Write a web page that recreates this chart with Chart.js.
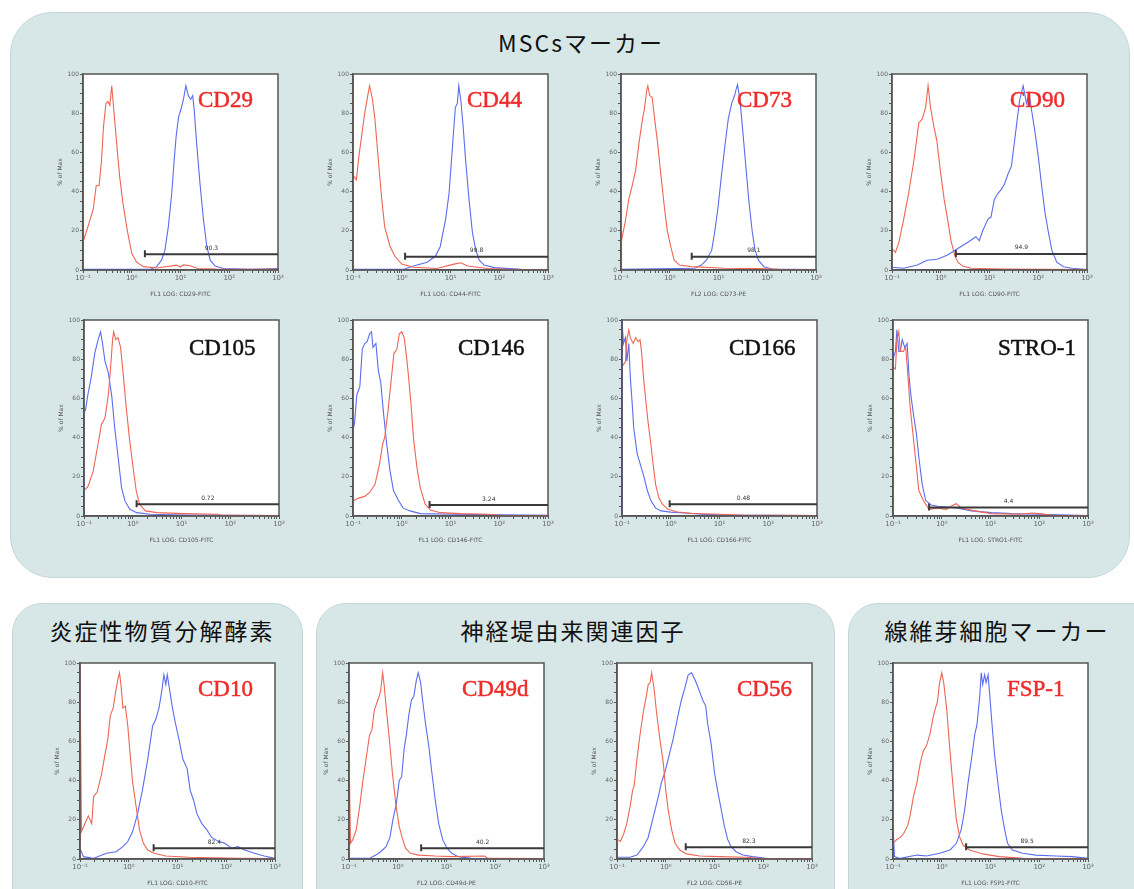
<!DOCTYPE html>
<html>
<head>
<meta charset="utf-8">
<script src="https://cdn.jsdelivr.net/npm/chart.js@4.4.1/dist/chart.umd.min.js"></script>
<style>
  body { margin: 0; background: #fff; width: 1134px; height: 889px; overflow: hidden; position: relative; }
  .panel { position: absolute; background: #d7e6e7; border: 1px solid #c3d7d9; box-sizing: border-box; }
  .title { position: absolute; transform: translate(-50%, -50%); font-family: "Noto Sans CJK JP", sans-serif; font-size: 23px; letter-spacing: 2px; color: #111; white-space: nowrap; }
  .marker { position: absolute; transform: translateY(-50%); font-family: "Liberation Serif", serif; font-size: 23px; line-height: 1; white-space: nowrap; -webkit-text-stroke: 0.5px currentColor; }
  canvas { position: absolute; }
</style>
</head>
<body>
<div class="panel" style="left:10px;top:12px;width:1120px;height:566px;border-radius:42px;"></div>
<div class="panel" style="left:12px;top:603px;width:291px;height:320px;border-radius:30px;"></div>
<div class="panel" style="left:316px;top:603px;width:519px;height:320px;border-radius:30px;"></div>
<div class="panel" style="left:848px;top:603px;width:320px;height:320px;border-radius:30px;"></div>
<div class="title" style="left:581px;top:42px;">MSCsマーカー</div>
<div class="title" style="left:162px;top:630px;">炎症性物質分解酵素</div>
<div class="title" style="left:573px;top:630px;">神経堤由来関連因子</div>
<div class="title" style="left:997px;top:630px;">線維芽細胞マーカー</div>

<script>
// markers and axis texts
const markers = ['CD29', 'CD44', 'CD73', 'CD90', 'CD105', 'CD146', 'CD166', 'STRO-1', 'CD10', 'CD49d', 'CD56', 'FSP-1'];
const markerRed = [true, true, true, true, false, false, false, false, true, true, true, true];
const axisTitles = ['FL1 LOG: CD29-FITC', 'FL1 LOG: CD44-FITC', 'FL2 LOG: CD73-PE', 'FL1 LOG: CD90-FITC',
  'FL1 LOG: CD105-FITC', 'FL1 LOG: CD146-FITC', 'FL1 LOG: CD166-FITC', 'FL1 LOG: STRO1-FITC',
  'FL1 LOG: CD10-FITC', 'FL2 LOG: CD49d-PE', 'FL2 LOG: CD56-PE', 'FL1 LOG: FSP1-FITC'];
const xTicks = [0.1, 1, 10, 100, 1000];
const xTickLabels = ['10⁻¹', '10⁰', '10¹', '10²', '10³'];
const yTicks = [0, 20, 40, 60, 80, 100];

// gate bars: start intensity, height (% of max), percent shown
const gateFrom = [1.86, 1.17, 2.82, 2.04, 1.2, 3.72, 0.95, 0.55, 3.24, 3.02, 2.57, 3.16];
const gateLevel = [8, 6.8, 6.8, 8.2, 6, 5.6, 6, 4.3, 5.5, 5.5, 6, 6];
const gateText = ['90.3', '99.8', '98.1', '94.9', '0.72', '3.24', '0.48', '4.4', '82.4', '40.2', '82.3', '89.5'];

// histograms: [log10 intensity, % of max]; Iso = red control, Pos = blue stained
const cd29Iso = [[-1,0],[-1,93],[-0.98,15],[-0.9,22],[-0.79,31],[-0.73,43],[-0.67,43],[-0.62,56],[-0.58,73],[-0.53,85],[-0.49,86],[-0.45,84],[-0.41,94],[-0.37,82],[-0.31,65],[-0.25,48],[-0.18,34],[-0.09,20],[0,8.5],[0.1,4],[0.24,1.7],[0.51,1],[0.92,2.5],[1,1.5],[1.06,2.6],[1.2,2.2],[1.35,0.8],[1.74,0.5],[3,0.3]];
const cd29Pos = [[-1,0.3],[0.37,0.3],[0.51,1.7],[0.61,5],[0.68,10],[0.75,22],[0.82,39],[0.87,56],[0.91,68],[0.96,78],[1.01,82],[1.06,87],[1.11,94],[1.16,89],[1.21,87],[1.25,89],[1.28,82],[1.33,65],[1.4,44],[1.47,26],[1.54,12],[1.61,5],[1.71,2],[1.88,0.8],[2.43,0.3],[3,0.8]];
const cd44Iso = [[-1,0],[-1,99],[-0.98,48],[-0.93,46],[-0.88,58],[-0.83,67],[-0.76,80],[-0.69,90],[-0.66,94],[-0.6,87],[-0.55,77],[-0.48,56],[-0.41,36],[-0.35,22],[-0.24,12],[-0.14,7],[0,3],[0.24,1.4],[0.72,0.8],[1.07,3],[1.21,3.7],[1.35,2],[1.76,0.8],[2.17,0.3],[3,0]];
const cd44Pos = [[-1,0.3],[0.03,0.3],[0.24,2],[0.52,4],[0.69,7],[0.79,12],[0.9,26],[0.97,39],[1.02,56],[1.07,73],[1.1,83],[1.14,85],[1.17,94],[1.21,87],[1.26,73],[1.31,56],[1.38,36],[1.45,19],[1.52,10],[1.59,5],[1.69,2.5],[1.9,1.2],[2.45,0.3],[3,0.2]];
const cd73Iso = [[-1,0],[-1,20],[-0.98,15],[-0.91,25],[-0.84,36],[-0.77,43],[-0.7,51],[-0.63,65],[-0.56,77],[-0.52,82],[-0.47,92],[-0.45,94],[-0.41,89],[-0.36,88],[-0.31,77],[-0.25,65],[-0.18,48],[-0.11,32],[-0.05,20],[0.02,12],[0.09,5],[0.2,2.5],[0.44,1.7],[1.13,0.9],[1.82,0.7],[2.24,0.3],[3,0]];
const cd73Pos = [[-1,0.3],[0.51,0.9],[0.65,2.5],[0.75,5],[0.86,10],[0.92,19],[0.99,32],[1.06,48],[1.13,63],[1.2,77],[1.27,85],[1.33,89],[1.36,92],[1.39,94.5],[1.44,87],[1.49,73],[1.55,56],[1.62,36],[1.69,20],[1.75,10],[1.82,5],[1.93,1.7],[2.1,0.5],[3,0.2]];
const cd90Iso = [[-1,0],[-1,11],[-0.93,9],[-0.86,14],[-0.76,26],[-0.66,39],[-0.55,56],[-0.45,75],[-0.38,77],[-0.31,83],[-0.26,94],[-0.21,83],[-0.14,73],[-0.08,66],[-0.01,51],[0.07,36],[0.14,26],[0.21,15],[0.28,8],[0.35,4],[0.45,2],[0.62,0.9],[1.24,0.5],[3,0.2]];
const cd90Pos = [[-1,1.4],[-0.76,0.9],[-0.48,2.5],[-0.28,5],[-0.07,5.5],[0.14,7.7],[0.35,11],[0.55,14],[0.72,17],[0.79,15],[0.86,20],[0.97,26],[1.03,27],[1.1,36],[1.17,39],[1.24,41],[1.31,44],[1.38,49],[1.45,53],[1.5,63],[1.55,73],[1.62,87],[1.69,94],[1.76,85],[1.81,90],[1.86,82],[1.93,71],[2,58],[2.07,43],[2.14,29],[2.21,19],[2.28,10],[2.38,4],[2.52,1.7],[2.69,0.9],[3,0.2]];
const cd105Iso = [[-1,13],[-0.92,15],[-0.81,23],[-0.71,37],[-0.64,47],[-0.57,50],[-0.5,62],[-0.46,74],[-0.41,91],[-0.39,94],[-0.35,90],[-0.3,91],[-0.25,86],[-0.19,71],[-0.14,57],[-0.07,40],[0,26],[0.07,13],[0.14,6],[0.26,2.6],[0.5,1.7],[1.05,1.2],[1.74,0.9],[1.84,0.3],[3,0.2]];
const cd105Pos = [[-1,0],[-1,53],[-0.97,54],[-0.92,62],[-0.85,71],[-0.78,83],[-0.71,90],[-0.66,94],[-0.62,88],[-0.57,79],[-0.5,73],[-0.43,61],[-0.37,45],[-0.3,30],[-0.23,14.5],[-0.16,7.7],[-0.06,3.4],[0.08,1.7],[0.36,0.9],[1.05,0.5],[3,0.2]];
const cd146Iso = [[-1,7.7],[-0.9,9],[-0.76,10],[-0.66,12],[-0.55,16],[-0.46,26],[-0.39,37],[-0.35,40],[-0.28,54],[-0.21,71],[-0.16,83],[-0.1,85],[-0.05,93],[0,94],[0.05,91],[0.09,83],[0.14,71],[0.19,57],[0.24,40],[0.31,25],[0.38,14.5],[0.48,6],[0.59,3],[0.79,1.7],[1.21,1.2],[1.76,0.9],[2.03,0.3],[3,0.2]];
const cd146Pos = [[-1,0],[-1,44],[-0.97,47],[-0.92,62],[-0.86,66],[-0.81,85],[-0.76,88],[-0.71,89],[-0.66,93],[-0.62,94],[-0.59,86],[-0.53,88],[-0.48,74],[-0.43,68],[-0.38,54],[-0.31,37],[-0.24,23],[-0.17,13],[-0.07,8],[0.03,4],[0.17,2.6],[0.38,1.2],[1.07,0.9],[3,0.3]];
const cd166Iso = [[-1,76],[-0.95,78],[-0.93,79],[-0.9,90],[-0.86,95],[-0.83,91],[-0.77,88],[-0.72,91],[-0.67,89],[-0.63,90],[-0.6,84],[-0.56,71],[-0.52,61],[-0.47,49],[-0.41,37],[-0.36,26],[-0.31,16],[-0.24,9],[-0.17,6],[-0.06,3.4],[0.14,2],[0.42,1.4],[0.98,0.9],[1.46,0.5],[3,0.2]];
const cd166Pos = [[-1,0],[-1,100],[-0.99,98],[-0.97,88],[-0.93,91],[-0.9,79],[-0.86,88],[-0.83,71],[-0.79,57],[-0.76,45],[-0.69,32],[-0.62,26],[-0.55,20],[-0.48,13],[-0.41,8],[-0.31,4],[-0.2,2.6],[0,2],[0.28,1.5],[0.63,0.9],[1.11,0.5],[3,0.2]];
const stro1Iso = [[-1,76],[-0.95,75],[-0.92,90],[-0.88,94],[-0.85,84],[-0.79,84],[-0.74,86],[-0.71,77],[-0.65,56],[-0.6,44],[-0.54,30],[-0.47,13],[-0.38,8],[-0.26,3.4],[-0.08,4],[0.09,3.4],[0.19,5],[0.3,6.3],[0.4,4],[0.68,2.6],[1.02,1.2],[1.58,0.9],[1.86,1.5],[2,1.2],[2.27,0.3],[3,0.2]];
const stro1Pos = [[-1,0],[-1,80],[-0.95,84],[-0.92,95],[-0.88,84],[-0.85,84],[-0.81,90],[-0.76,86],[-0.71,88],[-0.67,71],[-0.63,61],[-0.57,50],[-0.52,42],[-0.47,30],[-0.4,16],[-0.33,8],[-0.22,5.6],[-0.08,5],[0.12,4.6],[0.33,4],[0.61,2.6],[1.02,1.7],[1.44,1.2],[2,0.9],[3,0.2]];
const cd10Iso = [[-1,0],[-1,100],[-0.97,14],[-0.9,18],[-0.83,22],[-0.76,18],[-0.72,32],[-0.65,34],[-0.56,43],[-0.49,53],[-0.43,61],[-0.38,73],[-0.32,77],[-0.27,85],[-0.22,92],[-0.19,95],[-0.16,89],[-0.12,77],[-0.07,78],[-0.02,68],[0.03,53],[0.08,39],[0.15,27],[0.22,15],[0.3,8],[0.39,4.6],[0.52,2.9],[0.76,1.5],[1.23,0.9],[2.24,0.3],[3,0.2]];
const cd10Pos = [[-1,5.5],[-0.93,1.2],[-0.73,0.3],[-0.46,2.9],[-0.26,3.7],[-0.12,6.3],[-0.02,8.9],[0.08,14],[0.18,23],[0.28,35],[0.39,51],[0.49,68],[0.55,71],[0.62,77],[0.68,86],[0.72,94],[0.76,89],[0.79,94],[0.84,86],[0.89,78],[0.96,69],[1.03,61],[1.11,51],[1.2,46],[1.26,35],[1.33,30],[1.4,23],[1.5,18],[1.6,15],[1.7,11],[1.84,9],[1.97,8],[2.11,5.5],[2.24,6.3],[2.38,4.6],[2.58,2.9],[2.78,1.5],[3,0.3]];
const cd49dIso = [[-1,0],[-1,57],[-0.97,8],[-0.92,10],[-0.85,15],[-0.78,27],[-0.72,39],[-0.65,51],[-0.58,63],[-0.53,66],[-0.48,76],[-0.41,81],[-0.38,83],[-0.35,86],[-0.31,95],[-0.28,89],[-0.24,78],[-0.18,63],[-0.11,44],[-0.04,28],[0.03,16.5],[0.1,10],[0.16,5.5],[0.26,2.9],[0.43,2],[0.77,1.5],[1.11,1.2],[1.78,1.5],[1.85,0.3],[3,0.2]];
const cd49dPos = [[-1,0.3],[-0.58,0.3],[-0.45,2],[-0.35,3.7],[-0.24,6.3],[-0.16,11],[-0.1,20],[-0.03,28],[0.03,40],[0.08,42],[0.13,56],[0.18,64],[0.23,74],[0.28,81],[0.33,83],[0.38,91],[0.42,95],[0.47,90],[0.51,81],[0.57,69],[0.64,57],[0.7,44],[0.77,30],[0.84,18],[0.92,10],[1.01,5.5],[1.11,2.9],[1.24,1.2],[1.51,0.3],[3,0.2]];
const cd56Iso = [[-1,0],[-1,72],[-0.98,10],[-0.93,9],[-0.86,13],[-0.8,18],[-0.73,27],[-0.68,35],[-0.65,37],[-0.59,51],[-0.53,63],[-0.46,75],[-0.4,83],[-0.36,89],[-0.32,90],[-0.29,95],[-0.24,87],[-0.19,75],[-0.12,61],[-0.05,49],[0,35],[0.05,25],[0.12,15],[0.19,8],[0.29,4.6],[0.42,2.6],[0.7,1.5],[1.1,1.2],[1.64,0.9],[1.92,0.3],[3,0.2]];
const cd56Pos = [[-1,0.9],[-0.73,0.9],[-0.59,2],[-0.46,6.3],[-0.36,11],[-0.25,22],[-0.15,32],[-0.09,39],[-0.02,44],[0.05,51],[0.15,61],[0.25,73],[0.32,81],[0.39,87],[0.46,94],[0.53,95],[0.59,92],[0.64,89],[0.7,85],[0.76,81],[0.82,78],[0.86,69],[0.93,59],[1,44],[1.07,34],[1.14,25],[1.2,17],[1.27,10],[1.34,6.3],[1.44,3.7],[1.58,2],[1.78,1.2],[2.05,0.3],[3,0.2]];
const fsp1Iso = [[-1,8],[-0.92,10],[-0.85,11],[-0.78,13],[-0.7,17],[-0.65,22],[-0.58,32],[-0.51,39],[-0.44,49],[-0.38,55],[-0.31,58],[-0.24,64],[-0.17,73],[-0.13,77],[-0.09,80],[-0.05,89],[0,95],[0.04,90],[0.1,77],[0.15,61],[0.2,46],[0.25,32],[0.3,20],[0.37,11],[0.44,7],[0.57,4.6],[0.84,2.6],[1.18,1.2],[1.66,0.3],[3,0.2]];
const fsp1Pos = [[-1,0],[-1,17],[-0.97,1.2],[-0.85,0.3],[-0.51,2],[-0.31,1.5],[-0.04,2.9],[0.17,4.6],[0.3,8],[0.4,15],[0.47,25],[0.54,39],[0.61,51],[0.68,64],[0.72,68],[0.78,83],[0.81,95],[0.84,89],[0.88,94],[0.91,90],[0.95,94],[0.98,85],[1.03,69],[1.08,54],[1.15,39],[1.22,25],[1.29,15],[1.35,8],[1.45,4.6],[1.66,2.9],[1.93,2],[2.34,1.5],[2.68,1.2],[3,0.3]];

const isoCurves = [cd29Iso, cd44Iso, cd73Iso, cd90Iso, cd105Iso, cd146Iso, cd166Iso, stro1Iso, cd10Iso, cd49dIso, cd56Iso, fsp1Iso];
const posCurves = [cd29Pos, cd44Pos, cd73Pos, cd90Pos, cd105Pos, cd146Pos, cd166Pos, stro1Pos, cd10Pos, cd49dPos, cd56Pos, fsp1Pos];

// page layout: top-left of each plot area, and of each marker name
const plotBoxes = [[83,74],[353,74],[621,74],[892,74],[84,320],[353,320],[622,320],[893,320],[80,663],[349,663],[617,663],[893,663]];
const labelBoxes = [[198,99],[467,99],[737,99],[1010,99],[189,347],[458,347],[729,347],[998,347],[198,688],[462,688],[737,688],[1007,688]];

const RED = '#ef6555';
const BLUE = '#5c6cee';
const AXIS = '#555';

// white plot area, frame and gate bar
const histFrame = {
  id: 'histFrame',
  beforeDraw(chart) {
    const a = chart.chartArea, ctx = chart.ctx;
    ctx.save();
    ctx.fillStyle = '#fff';
    ctx.fillRect(a.left, a.top, a.right - a.left, a.bottom - a.top);
    ctx.restore();
  },
  afterDraw(chart, args, opts) {
    const a = chart.chartArea, ctx = chart.ctx;
    const xs = chart.scales.x, ys = chart.scales.y;
    ctx.save();
    ctx.strokeStyle = AXIS;
    ctx.lineWidth = 1.5;
    ctx.strokeRect(a.left, a.top, a.right - a.left, a.bottom - a.top);
    // gate
    const x0 = xs.getPixelForValue(opts.from);
    const x1 = xs.getPixelForValue(1000);
    const y = ys.getPixelForValue(opts.level);
    ctx.strokeStyle = '#3a3a3a';
    ctx.lineWidth = 2;
    ctx.beginPath();
    ctx.moveTo(x0, y); ctx.lineTo(x1, y);
    ctx.moveTo(x0, y - 4); ctx.lineTo(x0, y + 3);
    ctx.stroke();
    ctx.fillStyle = '#333';
    ctx.font = '6px "DejaVu Sans", sans-serif';
    ctx.textAlign = 'center';
    ctx.textBaseline = 'bottom';
    const mid = xs.getPixelForValue(Math.sqrt(opts.from * 1000));
    ctx.fillText(opts.label, mid, y - 3);
    ctx.restore();
  }
};

function toPoints(curve) {
  return curve.map(p => ({ x: Math.pow(10, p[0]), y: p[1] }));
}

function isMajor(v) {
  const l = Math.log10(v);
  return Math.abs(l - Math.round(l)) < 1e-6;
}

function makeChart(i) {
  const canvas = document.createElement('canvas');
  const W = 240, H = 240;
  canvas.width = W; canvas.height = H;
  canvas.style.width = W + 'px'; canvas.style.height = H + 'px';
  canvas.style.left = (plotBoxes[i][0] - 30) + 'px';
  canvas.style.top = (plotBoxes[i][1] - 8) + 'px';
  document.body.appendChild(canvas);

  const lab = document.createElement('div');
  lab.className = 'marker';
  lab.textContent = markers[i];
  lab.style.left = labelBoxes[i][0] + 'px';
  lab.style.top = labelBoxes[i][1] + 'px';
  lab.style.color = markerRed[i] ? '#f02a2a' : '#111';
  document.body.appendChild(lab);

  new Chart(canvas, {
    type: 'line',
    data: {
      datasets: [
        { data: toPoints(isoCurves[i]), borderColor: RED, borderWidth: 1.1, pointRadius: 0, tension: 0 },
        { data: toPoints(posCurves[i]), borderColor: BLUE, borderWidth: 1.1, pointRadius: 0, tension: 0 }
      ]
    },
    options: {
      responsive: false,
      animation: false,
      layout: { padding: { left: 4, right: 15, top: 8, bottom: 8 } },
      plugins: {
        legend: { display: false },
        tooltip: { enabled: false },
        histFrame: { from: gateFrom[i], level: gateLevel[i], label: gateText[i] }
      },
      scales: {
        x: {
          type: 'logarithmic',
          min: 0.1, max: 1000,
          afterBuildTicks(s) {
            const t = [];
            xTicks.forEach((d, k) => {
              if (k === xTicks.length - 1) { t.push({ value: d }); return; }
              for (let m = 1; m < 10; m++) t.push({ value: d * m });
            });
            s.ticks = t;
          },
          afterFit(s) { s.height = 28; },
          ticks: {
            autoSkip: false, maxRotation: 0, padding: 1,
            color: '#666', font: { size: 7, family: 'DejaVu Sans' },
            callback(v) {
              if (!isMajor(v)) return '';
              return xTickLabels[Math.round(Math.log10(v)) + 1];
            }
          },
          grid: { drawOnChartArea: false, tickLength: 3, color: AXIS },
          border: { color: AXIS, width: 1.5 },
          title: { display: true, text: axisTitles[i], color: '#555', font: { size: 6, family: 'DejaVu Sans' }, padding: { top: 1, bottom: 0 } }
        },
        y: {
          min: 0, max: 100,
          afterBuildTicks(s) {
            const t = [];
            for (let v = 0; v <= 100; v += 5) t.push({ value: v });
            s.ticks = t;
          },
          afterFit(s) { s.width = 26; },
          ticks: {
            autoSkip: false, padding: 1,
            color: '#666', font: { size: 6, family: 'DejaVu Sans' },
            callback(v) { return yTicks.includes(v) ? String(v) : ''; }
          },
          grid: { drawOnChartArea: false, tickLength: 3, color: AXIS },
          border: { color: AXIS, width: 1.5 },
          title: { display: true, text: '% of Max', color: '#555', font: { size: 6, family: 'DejaVu Sans' }, padding: 0 }
        }
      }
    },
    plugins: [histFrame]
  });
}

markers.forEach((m, i) => makeChart(i));
</script>
</body>
</html>
